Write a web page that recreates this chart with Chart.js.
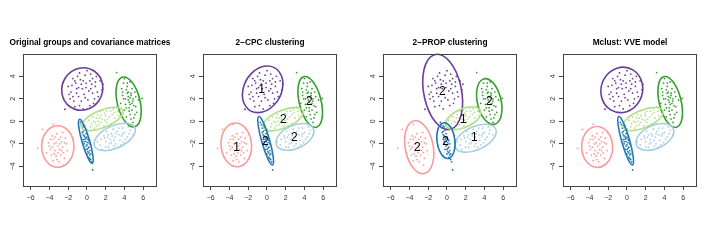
<!DOCTYPE html>
<html>
<head>
<meta charset="utf-8">
<script src="https://cdn.jsdelivr.net/npm/chart.js@4"></script>
<style>
  body { margin: 0; background: #fff; }
  .wrap { position: relative; width: 720px; height: 240px; }
  .wrap canvas { position: absolute; top: 0; }
</style>
</head>
<body>
<div class="wrap">
  <canvas id="c0" width="180" height="240" style="left:0px"></canvas>
  <canvas id="c1" width="180" height="240" style="left:180px"></canvas>
  <canvas id="c2" width="180" height="240" style="left:360px"></canvas>
  <canvas id="c3" width="180" height="240" style="left:540px"></canvas>
</div>
<script>
// groups, in plotting order
const groupNames = ['purple', 'darkgreen', 'lightgreen', 'lightblue', 'darkblue', 'pink'];
const groupColors = ['#6A3D9A', '#33A02C', '#B2DF8A', '#A6CEE3', '#1F78B4', '#FB9A99'];

// points [x, y] (estimated)
const purplePts = [[-0.5,2.9],[-1.2,3.4],[0.3,3.6],[-0.9,2.2],[0.6,2.5],[-1.7,2.6],[-0.2,4.1],[0.9,3.1],[-1.4,1.8],[0.1,1.9],
  [-0.6,3.3],[1.2,2.2],[-2.0,3.1],[-0.3,2.4],[0.4,4.2],[-1.0,4.0],[1.4,3.6],[-1.5,3.8],[-0.8,1.4],[0.7,1.6],
  [-2.34,1.07],[-0.1,3.0],[0.2,2.7],[-1.1,2.9],[1.0,4.0],[-0.4,1.1],[-1.8,2.0],[0.5,3.3],[-0.7,3.7],[1.6,2.8],
  [-1.3,1.3],[0.0,4.5],[-0.9,3.0],[0.8,2.0],[-1.6,3.2],[0.3,1.4],[-0.4,3.6],[-1.1,2.5],[0.6,3.8],[-0.2,2.1],
  [1.1,2.6],[-1.9,2.4],[-0.6,1.8],[0.4,2.9],[-1.3,3.6],[0.9,3.5],[-0.8,4.3],[1.7,3.3],[-0.1,3.4],[-1.5,2.2]];
const darkgreenPts = [[4.5,1.7],[4.2,2.8],[3.9,3.4],[4.8,1.0],[5.0,0.3],[4.4,2.2],[4.7,2.5],[4.1,1.5],[5.2,1.3],[3.8,2.3],
  [4.6,0.6],[4.9,2.0],[4.3,3.1],[4.0,1.0],[5.3,0.8],[4.5,1.2],[3.7,2.9],[4.8,1.6],[4.2,0.4],[5.5,1.9],
  [5.89,2.04],[4.6,3.5],[3.6,1.6],[4.9,-0.1],[4.4,1.9],[3.16,4.33],[5.1,2.6],[4.0,3.8],[4.7,0.2],[4.3,2.5],
  [4.6,2.1],[5.0,1.4],[4.1,2.0],[4.4,2.6],[4.8,2.9],[3.9,2.0],[5.2,2.2],[4.5,0.9],[4.2,1.2],[4.9,1.8],
  [3.8,2.6],[4.6,1.5],[5.1,0.6],[4.3,3.4],[4.7,2.3]];
const lightgreenPts = [[1.6,0.2],[0.5,-0.2],[2.7,0.6],[1.0,0.3],[2.1,-0.1],[3.3,0.9],[-0.2,-0.4],[1.3,-0.3],[2.4,0.4],[0.8,-0.6],
  [1.9,0.7],[3.0,0.3],[0.2,0.1],[1.5,0.5],[2.8,1.1],[1.2,0.0],[2.2,0.2],[0.6,0.4],[3.6,1.0],[1.8,-0.4],
  [2.5,0.9],[0.0,-0.7],[1.4,0.9],[2.0,0.5],[3.2,1.3],[0.9,-0.1],[2.6,-0.2],[1.7,1.0],[1.1,0.6],[2.3,-0.4],
  [1.5,-0.1],[2.9,0.8],[0.4,-0.5],[1.9,0.1],[2.4,1.2],[0.7,0.0],[3.4,0.5],[1.3,0.3],[2.1,0.9],[1.0,-0.4]];
const lightbluePts = [[3.0,-1.4],[2.0,-1.8],[4.0,-1.0],[2.6,-1.1],[3.5,-1.7],[1.4,-2.1],[4.6,-0.8],[2.3,-2.3],[3.8,-0.6],[3.1,-2.0],
  [1.8,-1.3],[4.3,-1.4],[2.8,-0.7],[3.4,-1.2],[1.1,-1.8],[2.5,-1.6],[3.9,-1.9],[4.9,-1.2],[2.1,-0.9],[3.2,-0.9],
  [1.6,-2.5],[2.9,-1.7],[3.7,-1.3],[2.4,-2.0],[4.4,-0.5],[3.3,-2.3],[1.9,-1.5],[2.7,-1.3],[3.6,-2.1],[2.2,-1.4],
  [3.1,-1.1],[2.6,-1.9],[4.1,-1.6],[3.4,-0.6],[1.5,-1.6],[2.9,-2.2],[3.8,-1.1],[2.3,-1.2],[4.5,-1.1],[2.0,-2.3]];
const darkbluePts = [[-0.1,-1.8],[-0.4,-0.9],[-0.6,-0.3],[0.1,-2.4],[0.3,-3.0],[-0.3,-1.3],[0.0,-2.1],[-0.2,-1.6],[0.2,-2.8],[-0.5,-0.6],
  [0.4,-3.4],[-0.1,-1.1],[0.1,-1.9],[-0.3,-2.0],[0.2,-2.3],[-0.4,-1.6],[0.0,-1.4],[0.3,-2.6],[-0.7,-0.1],[0.5,-3.6],
  [-0.2,-2.5],[0.1,-1.6],[-0.4,-1.2],[0.3,-2.0],[0.6,-4.33],[-0.2,-0.8],[0.0,-2.9],[-0.1,-2.2],[0.2,-3.2],[-0.3,-0.5],
  [-0.2,-1.4],[0.1,-2.7],[-0.5,-1.0],[0.4,-2.9],[-0.3,-1.8],[0.2,-1.7],[0.0,-2.5],[-0.1,-1.5],[0.3,-3.3],[-0.4,-0.4]];
const pinkPts = [[-3.1,-2.2],[-3.6,-1.6],[-2.5,-2.8],[-3.9,-2.5],[-2.8,-1.4],[-3.3,-3.1],[-2.2,-2.0],[-4.1,-1.9],[-3.0,-3.6],[-2.6,-1.0],
  [-3.5,-2.0],[-2.9,-2.5],[-3.8,-3.0],[-2.4,-3.3],[-3.2,-1.1],[-4.3,-2.8],[-2.1,-2.6],[-3.4,-2.6],[-2.7,-1.8],[-3.7,-1.3],
  [-5.25,-2.4],[-3.59,-0.27],[-4.76,-0.71],[-2.5,-3.9],[-3.0,-1.6],[-3.6,-3.5],[-2.3,-1.5],[-4.0,-2.2],[-2.8,-3.0],[-3.3,-1.9],
  [-2.9,-2.0],[-3.5,-2.9],[-2.6,-2.3],[-3.9,-1.6],[-3.1,-2.8],[-2.4,-1.9],[-3.7,-2.3],[-3.2,-3.4],[-2.7,-2.6],[-3.4,-1.4]];
const groupPts = [purplePts, darkgreenPts, lightgreenPts, lightbluePts, darkbluePts, pinkPts];

// panel titles
const titles = ['Original groups and covariance matrices', '2\u2212CPC clustering', '2\u2212PROP clustering', 'Mclust: VVE model'];

// ellipses per panel, one per group: [cx, cy, semi-major, semi-minor, angle in degrees]
const ellOriginal = [[-0.5,2.87,2.2,1.88,10],[4.44,1.72,2.3,1.2,108],[1.63,0.21,2.35,0.78,18],[2.96,-1.39,2.3,1.02,19],[-0.12,-1.78,2.07,0.4,109.5],[-3.11,-2.24,1.85,1.72,92]];
const ellCPC = [[-0.46,2.84,2.35,1.85,40],[4.61,1.72,2.35,1.15,108],[1.7,0.18,2.25,0.8,18],[2.98,-1.39,2.1,1.05,18],[-0.14,-1.73,2.27,0.42,109],[-3.27,-2.1,1.95,1.62,100]];
const ellPROP = [[-0.46,2.61,3.42,2.0,105],[4.51,1.75,2.1,1.25,108],[1.74,0.27,1.95,0.85,18],[3.05,-1.51,2.3,1.05,19],[-0.11,-1.72,1.6,0.95,100],[-2.96,-2.3,2.4,1.48,105]];
const ellVVE = [[-0.55,2.79,2.25,2.0,15],[4.61,1.72,2.35,1.15,108],[1.7,0.2,2.25,0.8,18],[2.98,-1.39,2.1,1.05,18],[-0.14,-1.73,2.27,0.42,109],[-3.18,-2.28,1.82,1.65,95]];
const panelEllipses = [ellOriginal, ellCPC, ellPROP, ellVVE];

// cluster labels: [x, y, text]
const labCPC = [[-0.57,2.79,'1'],[4.51,1.75,'2'],[1.74,0.18,'2'],[2.91,-1.42,'2'],[-0.18,-1.81,'2'],[-3.23,-2.31,'1']];
const labPROP = [[-0.5,2.64,'2'],[4.51,1.75,'2'],[1.74,0.18,'1'],[2.91,-1.42,'1'],[-0.14,-1.81,'2'],[-3.16,-2.31,'2']];
const panelLabels = [[], labCPC, labPROP, []];

const xTicks = [-6, -4, -2, 0, 2, 4, 6];
const yTicks = [-4, -2, 0, 2, 4];

Chart.defaults.font.family = '"Liberation Sans", Arial, sans-serif';

const overlay = {
  id: 'overlay',
  afterDatasetsDraw(chart, args, opts) {
    const ctx = chart.ctx;
    const xs = chart.scales.x, ys = chart.scales.y;
    const sx = xs.getPixelForValue(1) - xs.getPixelForValue(0);
    const sy = ys.getPixelForValue(1) - ys.getPixelForValue(0);
    opts.ellipses.forEach((e, i) => {
      ctx.save();
      ctx.translate(xs.getPixelForValue(e[0]), ys.getPixelForValue(e[1]));
      ctx.scale(sx, sy);
      ctx.rotate(e[4] * Math.PI / 180);
      ctx.beginPath();
      ctx.ellipse(0, 0, e[2], e[3], 0, 0, Math.PI * 2);
      ctx.restore();
      ctx.save();
      ctx.strokeStyle = groupColors[i];
      ctx.lineWidth = 1.6;
      ctx.stroke();
      ctx.restore();
    });
    ctx.save();
    ctx.fillStyle = '#000';
    ctx.font = '12px "Liberation Sans", Arial, sans-serif';
    ctx.textAlign = 'center';
    ctx.textBaseline = 'middle';
    opts.labels.forEach(l => {
      ctx.fillText(l[2], xs.getPixelForValue(l[0]), ys.getPixelForValue(l[1]));
    });
    ctx.restore();
  },
  afterDraw(chart, args, opts) {
    const ctx = chart.ctx;
    const a = chart.chartArea;
    const ys = chart.scales.y;
    ctx.save();
    ctx.strokeStyle = '#444';
    ctx.lineWidth = 1;
    ctx.strokeRect(Math.round(a.left) + 0.5, Math.round(a.top) + 0.5, Math.round(a.right - a.left), Math.round(a.bottom - a.top));
    // title centred on the panel
    ctx.fillStyle = '#000';
    ctx.font = 'bold 8.3px "Liberation Sans", Arial, sans-serif';
    ctx.textAlign = 'center';
    ctx.textBaseline = 'middle';
    ctx.fillText(opts.title, chart.width / 2, 43);
    // rotated y tick labels, R style
    ctx.fillStyle = '#333';
    ctx.font = '7px "Liberation Sans", Arial, sans-serif';
    yTicks.forEach(v => {
      ctx.save();
      ctx.translate(13, ys.getPixelForValue(v));
      ctx.rotate(-Math.PI / 2);
      ctx.fillText(String(v).replace('-', '\u2212'), 0, 0);
      ctx.restore();
    });
    ctx.restore();
  }
};

for (let p = 0; p < 4; p++) {
  const datasets = groupNames.map((name, i) => ({
    label: name,
    data: groupPts[i].map(pt => ({ x: pt[0], y: pt[1] })),
    backgroundColor: groupColors[i],
    borderWidth: 0,
    pointRadius: 0.9,
    pointHoverRadius: 0.9
  }));
  new Chart(document.getElementById('c' + p), {
    type: 'scatter',
    data: { datasets },
    options: {
      responsive: false,
      animation: false,
      devicePixelRatio: 1,
      layout: { padding: { left: 0, right: 24, top: 54, bottom: 0 } },
      plugins: {
        legend: { display: false },
        tooltip: { enabled: false },
        title: { display: false },
        overlay: { ellipses: panelEllipses[p], labels: panelLabels[p], title: titles[p] }
      },
      scales: {
        x: {
          type: 'linear',
          min: -6.82, max: 7.36,
          afterFit: s => { s.height = 54; },
          afterBuildTicks: s => { s.ticks = xTicks.map(v => ({ value: v })); },
          border: { display: false },
          grid: { drawOnChartArea: false, drawTicks: true, tickLength: 4, color: '#444' },
          ticks: {
            color: '#333', font: { size: 7 }, padding: 4, maxRotation: 0,
            callback: v => String(v).replace('-', '\u2212')
          }
        },
        y: {
          type: 'linear',
          min: -5.75, max: 5.98,
          afterFit: s => { s.width = 23; },
          afterBuildTicks: s => { s.ticks = yTicks.map(v => ({ value: v })); },
          border: { display: false },
          grid: { drawOnChartArea: false, drawTicks: true, tickLength: 4, color: '#444' },
          ticks: { display: false }
        }
      }
    },
    plugins: [overlay]
  });
}
</script>
</body>
</html>
